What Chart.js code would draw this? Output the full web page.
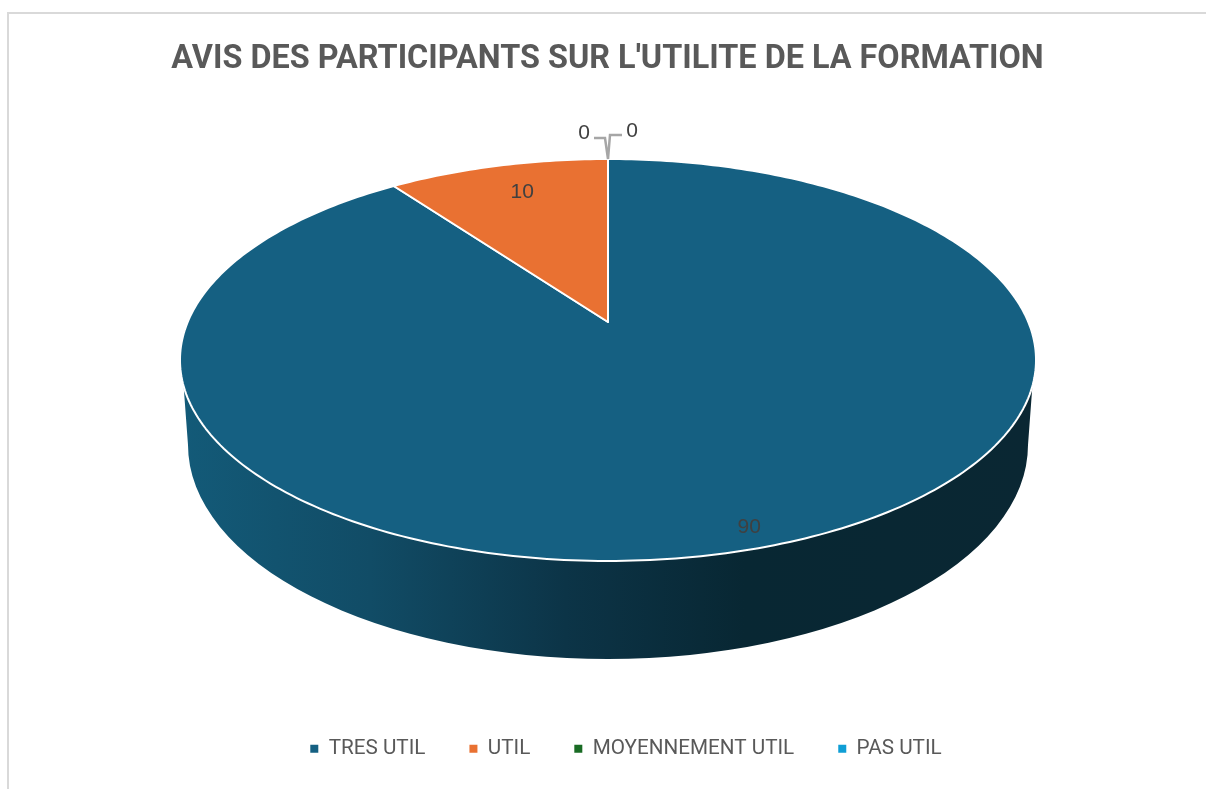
<!DOCTYPE html>
<html>
<head>
<meta charset="utf-8">
<title>Avis des participants</title>
<script src="https://cdn.jsdelivr.net/npm/chart.js@4"></script>
<style>
    html, body { margin: 0; padding: 0; background: #fff; overflow: hidden; }
    #frame { position: absolute; left: 7px; top: 12px; right: 0; bottom: 0; border-top: 2px solid #d9d9d9; border-left: 2px solid #d9d9d9; pointer-events: none; }
    canvas { position: absolute; left: 0; top: 0; }
</style>
</head>
<body>
<canvas id="pieChart" width="1206" height="789"></canvas>
<div id="frame"></div>
<script>
// Chart data
const chartTitle = "AVIS DES PARTICIPANTS SUR L'UTILITE DE LA FORMATION";
const categories = ['TRES UTIL', 'UTIL', 'MOYENNEMENT UTIL', 'PAS UTIL'];
const values = [90, 10, 0, 0];
const colors = ['#156082', '#E97132', '#196B24', '#0F9ED5'];

// Tilted disc: the arc angles come from Chart.js, this only projects them
const disc = { cx: 608, cy: 322, a: 420.3, b: 193.8, k: 0.189 };

function project(angle, r) {
    const u = r * Math.cos(angle);
    const v = r * Math.sin(angle);
    const w = 1 - disc.k * v;
    return { x: disc.cx + disc.a * u / w, y: disc.cy + disc.b * v / w };
}

function drawWall(ctx) {
    const start = 0.13;
    const grad = ctx.createLinearGradient(183, 0, 1033, 0);
    grad.addColorStop(0, '#135a78');
    grad.addColorStop(0.22, '#114c66');
    grad.addColorStop(0.45, '#0c3447');
    grad.addColorStop(0.66, '#082733');
    grad.addColorStop(1, '#0a2733');
    ctx.beginPath();
    ctx.ellipse(608, 360, 428, 201, 0, start, Math.PI - start);
    ctx.lineTo(188, 445);
    ctx.ellipse(608, 445, 420, 214, 0, Math.PI, 0, true);
    ctx.closePath();
    ctx.fillStyle = grad;
    ctx.fill();
}

// Draw the slices in perspective instead of the flat default
const tiltedPie = {
    id: 'tiltedPie',
    beforeDatasetDraw(chart, args) {
        const ctx = chart.ctx;
        ctx.save();
        drawWall(ctx);
        args.meta.data.forEach((arc, i) => {
            if (!values[i]) return;
            const steps = Math.ceil(arc.circumference * 60);
            ctx.beginPath();
            ctx.moveTo(disc.cx, disc.cy);
            for (let s = 0; s <= steps; s++) {
                const p = project(arc.startAngle + arc.circumference * s / steps, 1);
                ctx.lineTo(p.x, p.y);
            }
            ctx.closePath();
            ctx.fillStyle = colors[i];
            ctx.fill();
            ctx.lineWidth = 2;
            ctx.lineJoin = 'round';
            ctx.strokeStyle = '#fff';
            ctx.stroke();
        });
        ctx.restore();
        return false;
    },
    afterDatasetsDraw(chart) {
        const ctx = chart.ctx;
        const arcs = chart.getDatasetMeta(0).data;
        ctx.save();
        ctx.font = '21px "Liberation Sans"';
        ctx.fillStyle = '#404040';
        ctx.textAlign = 'center';
        ctx.textBaseline = 'middle';

        // value labels sitting on the slices
        const big = project(arcs[0].startAngle + arcs[0].circumference / 2, 0.92);
        ctx.fillText(values[0], big.x - 2, big.y + 2);
        const small = project(arcs[1].startAngle + arcs[1].circumference / 2, 0.79);
        ctx.fillText(values[1], small.x + 4, small.y - 2);

        // zero slices get a leader line from the top of the pie
        const top = project(arcs[2].startAngle, 1);
        ctx.strokeStyle = '#a6a6a6';
        ctx.lineWidth = 2.5;
        ctx.beginPath();
        ctx.moveTo(top.x, top.y);
        ctx.lineTo(top.x - 3, top.y - 21);
        ctx.lineTo(top.x - 14, top.y - 21);
        ctx.moveTo(top.x, top.y);
        ctx.lineTo(top.x + 2, top.y - 24);
        ctx.lineTo(top.x + 14, top.y - 24);
        ctx.stroke();
        ctx.fillText(values[2], top.x - 24, top.y - 26);
        ctx.fillText(values[3], top.x + 24, top.y - 28);
        ctx.restore();
    }
};

// Title and legend sit a bit right of the canvas centre
const blockShift = {
    id: 'blockShift',
    afterLayout(chart) {
        chart.titleBlock.left += 4.5;
        chart.titleBlock.right += 4.5;
        chart.legend.left += 23;
        chart.legend.right += 23;
    }
};

new Chart(document.getElementById('pieChart').getContext('2d'), {
    type: 'pie',
    data: {
        labels: categories,
        datasets: [{
            data: values,
            backgroundColor: colors,
            borderWidth: 0
        }]
    },
    options: {
        responsive: false,
        animation: false,
        layout: { padding: { top: 20, bottom: 20 } },
        plugins: {
            title: {
                display: true,
                text: chartTitle,
                color: '#595959',
                font: { family: 'Roboto', size: 32.4, weight: 'bold' },
                padding: { top: 20, bottom: 10 }
            },
            legend: {
                position: 'bottom',
                labels: {
                    color: '#595959',
                    font: { family: 'Roboto', size: 20.7 },
                    boxWidth: 8,
                    boxHeight: 8,
                    padding: 44
                }
            },
            tooltip: { enabled: false }
        }
    },
    plugins: [tiltedPie, blockShift]
});
</script>
</body>
</html>
